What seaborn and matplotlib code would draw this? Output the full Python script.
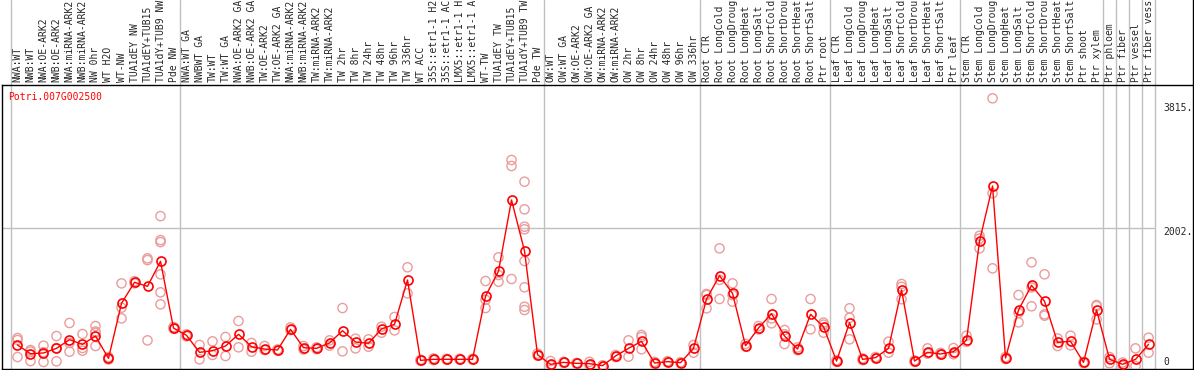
import numpy as np
import pandas as pd
import matplotlib
matplotlib.use("Agg")
import matplotlib.pyplot as plt
import seaborn as sns

# Sample names (as shown, cut to 14 chars)
sample_labels = [
    "NWA:WT", "NWB:WT", "NWA:OE-ARK2", "NWB:OE-ARK2", "NWA:miRNA-ARK2", "NWB:miRNA-ARK2",
    "NW 0hr", "WT H2O", "WT-NW", "TUA1dEY NW", "TUA1dEY+TUB15", "TUA1dY+TUB9 NW", "Pde NW",
    "NWA:WT GA", "NWBWT GA", "TW:WT", "TW:WT GA", "NWA:OE-ARK2 GA", "NWB:OE-ARK2 GA",
    "TW:OE-ARK2", "TW:OE-ARK2 GA", "NWA:miRNA-ARK2", "NWB:miRNA-ARK2", "TW:miRNA-ARK2",
    "TW:miRNA-ARK2", "TW 2hr", "TW 8hr", "TW 24hr", "TW 48hr", "TW 96hr", "TW 336hr",
    "WT ACC", "35S::etr1-1 H2", "35S::etr1-1 AC", "LMX5::etr1-1 H", "LMX5::etr1-1 A",
    "WT-TW", "TUA1dEY TW", "TUA1dEY+TUB15", "TUA1dY+TUB9 TW", "Pde TW",
    "OW:WT", "OW:WT GA", "OW:OE-ARK2", "OW:OE-ARK2 GA", "OW:miRNA-ARK2", "OW:miRNA-ARK2",
    "OW 2hr", "OW 8hr", "OW 24hr", "OW 48hr", "OW 96hr", "OW 336hr",
    "Root CTR", "Root LongCold", "Root LongDroug", "Root LongHeat", "Root LongSalt",
    "Root ShortCold", "Root ShortDrou", "Root ShortHeat", "Root ShortSalt", "Ptr root",
    "Leaf CTR", "Leaf LongCold", "Leaf LongDroug", "Leaf LongHeat", "Leaf LongSalt",
    "Leaf ShortCold", "Leaf ShortDrou", "Leaf ShortHeat", "Leaf ShortSalt", "Ptr leaf",
    "Stem CTR", "Stem LongCold", "Stem LongDroug", "Stem LongHeat", "Stem LongSalt",
    "Stem ShortCold", "Stem ShortDrou", "Stem ShortHeat", "Stem ShortSalt", "Ptr shoot",
    "Ptr xylem", "Ptr phloem", "Ptr fiber", "Ptr vessel", "Ptr fiber vess",
]

# mean expression per sample
mean_expr = [
    305, 178, 189, 256, 382, 314, 435, 111, 909, 1214, 1156, 1518, 551,
    445, 198, 222, 290, 460, 280, 246, 232, 532, 266, 256, 334, 512, 348, 329, 537, 605,
    1248, 82, 97, 97, 97, 97, 1011, 1378, 2409, 1669, 164,
    24, 53, 39, 34, 5, 145, 256, 358, 43, 63, 48, 256,
    972, 1310, 1054, 295, 551, 759, 435, 246, 750, 570,
    72, 629, 97, 121, 256, 1103, 72, 198, 174, 208,
    377, 1813, 2612, 116, 812, 1170, 938, 343, 358, 53, 812,
    97, 24, 97, 314,
]

# replicate values per sample
rep_expr = [
    [406, 377, 130], [232, 210, 72], [295, 200, 58], [435, 260, 68], [624, 334, 208],
    [464, 261, 222], [580, 500, 483, 290], [130, 100, 95], [1199, 846, 691], [1230, 1200],
    [1562, 1537, 372], [2175, 1827, 1798, 1330, 1069, 895], [565, 540],
    [460, 430], [305, 97], [358, 160], [421, 145], [653, 271], [334, 208], [290, 230],
    [240, 225], [560, 520], [290, 240], [270, 245], [372, 295], [841, 213], [396, 256],
    [387, 280], [570, 483], [711, 517], [1432, 1054], [90, 75], [110, 85], [105, 90],
    [105, 90], [105, 90], [1233, 960, 841], [1577, 1320, 1223], [2989, 2902, 1262],
    [2674, 2273, 2021, 1983, 1523, 1142, 860, 812], [180, 150],
    [72, 10], [60, 45], [45, 35], [60, 10], [10, 0], [160, 130], [372, 135],
    [450, 420, 242], [60, 30], [70, 55], [55, 40], [305, 193],
    [1045, 1030, 837], [1707, 1250, 972], [1199, 1030, 933], [320, 280], [580, 530],
    [972, 690, 619], [522, 460, 319], [270, 230], [972, 532], [629, 600, 483],
    [85, 60], [837, 700, 387], [110, 85], [130, 110], [353, 193], [1190, 1150, 968],
    [80, 60], [256, 180], [190, 165], [260, 170],
    [440, 350], [1890, 1850, 1707], [3884, 2505, 1417], [130, 100], [1030, 770, 633],
    [1504, 1140, 866], [1330, 750, 730], [400, 290], [440, 300], [60, 40], [885, 870, 677],
    [130, 40], [50, 0], [256, 0], [411, 193],
]

group_breaks = [0, 13, 41, 53, 63, 73, 84, 85, 86, 87, 88]
ytick_values = [0, 2002, 3815]
gene_id = "Potri.007G002500"

sns.set_style("white")
plt.rcParams["font.family"] = ["DejaVu Sans Mono"]

grey = "#c0c0c0"
pink = "#eb9c9c"

fig = plt.figure(figsize=(11.94, 3.70), dpi=100)
ax = fig.add_axes([2 / 1194, 1 / 370, 1191 / 1194, 284 / 370])

means_df = pd.DataFrame({"pos": np.arange(len(mean_expr)), "expr": mean_expr})
rep_df = pd.DataFrame([(i, v) for i, reps in enumerate(rep_expr) for v in reps],
                      columns=["pos", "expr"])

# group separators and grid
for b in group_breaks:
    ax.axvline(b - 0.5, ymin=0, ymax=369 / 284, color=grey, lw=1, clip_on=False, zorder=1)
ax.axhline(ytick_values[1], xmin=0, xmax=(1155 - 2) / 1191, color=grey, lw=1, zorder=1)

# replicates
sns.scatterplot(data=rep_df, x="pos", y="expr", ax=ax, marker="o", s=44,
                linewidth=1.0, legend=False, zorder=3)
ax.collections[-1].set_facecolor("none")
ax.collections[-1].set_edgecolor(pink)

# means
sns.lineplot(data=means_df, x="pos", y="expr", ax=ax, color="red", lw=1,
             marker="o", markersize=6.5, markerfacecolor="none",
             markeredgecolor="red", markeredgewidth=1.2, zorder=4)

ax.set_xlim(-1.192, 90.42)
ax.set_ylim(-43.5, 4077)
ax.set_xlabel("")
ax.set_ylabel("")

ax.xaxis.tick_top()
ax.set_xticks(range(len(sample_labels)))
ax.set_xticklabels(sample_labels, rotation=90, fontsize=7)
ax.tick_params(axis="x", length=0, pad=2)
ax.set_yticks([])

for sp in ax.spines.values():
    sp.set_color("black")
    sp.set_linewidth(1)
ax.plot([1, 1], [1, 370 / 284], transform=ax.transAxes, color="black", lw=1, clip_on=False)

# y labels inside the right margin
offsets = [2.9, -2.9, -3.6]
for v, dy in zip(ytick_values, offsets):
    ax.annotate(str(v) if v == 0 else f"{v}.", xy=(88.12, v), xytext=(0, dy),
                textcoords="offset points", va="center", ha="left", fontsize=7)

ax.text(0.005, 0.958, gene_id, transform=ax.transAxes, color="red",
        fontsize=7, va="center", ha="left")

fig.savefig("out.png", dpi=100)
